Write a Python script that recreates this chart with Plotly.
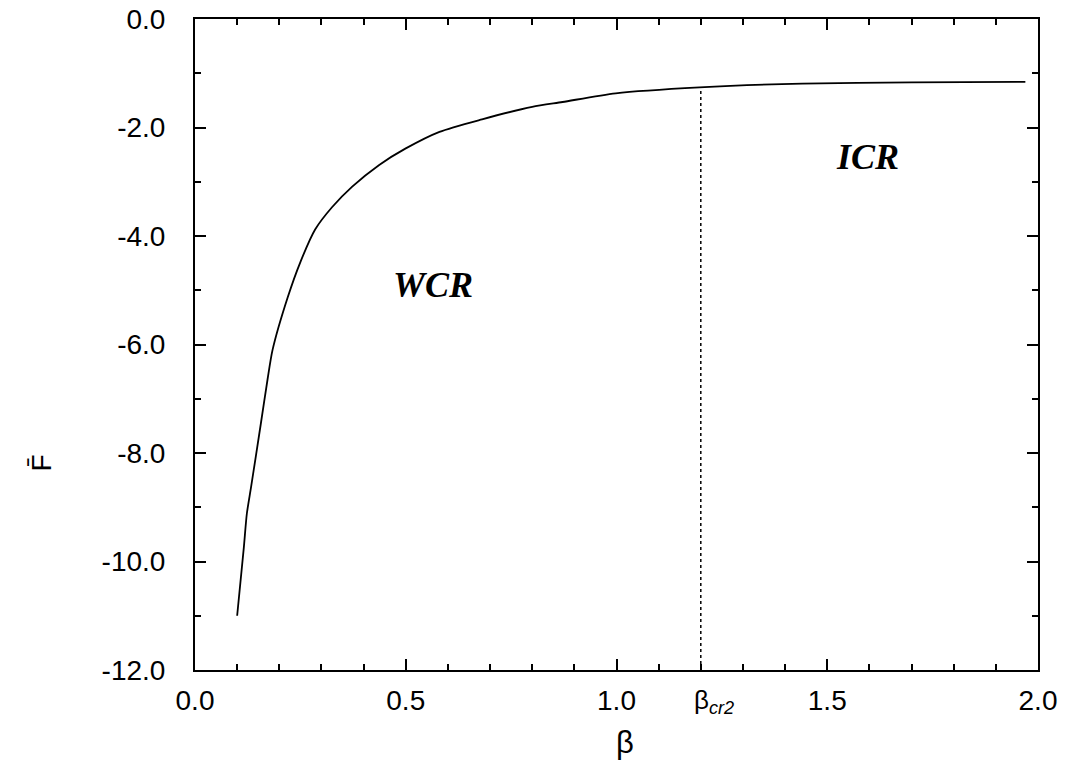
import plotly.graph_objects as go

# Data
beta = [0.100, 0.116, 0.123, 0.133, 0.156, 0.172, 0.184, 0.220, 0.250, 0.285,
        0.325, 0.373, 0.437, 0.499, 0.580, 0.681, 0.800, 0.872, 0.998, 1.197,
        1.441, 1.700, 1.970]
F_bar = [-11.00, -9.73, -9.12, -8.63, -7.47, -6.65, -6.10, -5.13, -4.48, -3.88,
         -3.47, -3.09, -2.69, -2.39, -2.08, -1.85, -1.62, -1.53, -1.37, -1.26,
         -1.19, -1.17, -1.16]
beta_cr2 = 1.2
F_at_cr2 = -1.26
crit_x = [beta_cr2, beta_cr2]
crit_y = [-12.0, F_at_cr2]

x_ticks = [0.0, 0.5, 1.0, 1.5, 2.0]
x_ticklabels = ["0.0", "0.5", "1.0", "1.5", "2.0"]
y_ticks = [0.0, -2.0, -4.0, -6.0, -8.0, -10.0, -12.0]
y_ticklabels = ["0.0", "-2.0", "-4.0", "-6.0", "-8.0", "-10.0", "-12.0"]

region_labels = ["WCR", "ICR"]
region_x = [0.565, 1.595]
region_y = [-4.9, -2.55]

fig = go.Figure()
fig.add_trace(go.Scatter(x=beta, y=F_bar, mode="lines",
                         line=dict(color="black", width=1.8, shape="spline", smoothing=0.7),
                         showlegend=False, hoverinfo="skip"))
fig.add_trace(go.Scatter(x=crit_x, y=crit_y, mode="lines",
                         line=dict(color="black", width=1.5, dash="dot"),
                         showlegend=False, hoverinfo="skip"))

for t, xx, yy in zip(region_labels, region_x, region_y):
    fig.add_annotation(x=xx, y=yy, xref="x", yref="y", text="<b><i>" + t + "</i></b>",
                       showarrow=False,
                       font=dict(family="Liberation Serif", size=36, color="black"))

# beta_cr2 label below axis
fig.add_annotation(x=1.178, y=-0.048, xref="x", yref="paper", xanchor="left",
                   yanchor="middle",
                   text="β<sub><i>cr2</i></sub>", showarrow=False,
                   font=dict(family="Liberation Sans", size=26, color="black"))
# x axis title
fig.add_annotation(x=1.02, y=-0.111, xref="x", yref="paper", yanchor="middle",
                   text="β", showarrow=False,
                   font=dict(family="Liberation Sans", size=31, color="black"))
# y axis title
fig.add_annotation(x=-0.182, y=0.318, xref="paper", yref="paper",
                   xanchor="center", yanchor="middle",
                   text="F\u0304", textangle=-90, showarrow=False,
                   font=dict(family="Liberation Sans", size=28, color="black"))

axis_common = dict(
    showline=True, linecolor="black", linewidth=2, mirror="allticks",
    ticks="inside", ticklen=11, tickwidth=2, tickcolor="black",
    showgrid=False, zeroline=False, automargin=False,
    tickfont=dict(family="Liberation Sans", size=28, color="black"),
)

fig.update_xaxes(range=[0, 2.0], tickvals=x_ticks, ticktext=x_ticklabels,
                 minor=dict(dtick=0.1, ticks="inside", ticklen=6, tickwidth=1.5,
                            tickcolor="black", showgrid=False),
                 ticklabelstandoff=4, **axis_common)
fig.update_yaxes(range=[-12, 0], tickvals=y_ticks, ticktext=y_ticklabels,
                 minor=dict(dtick=1.0, ticks="inside", ticklen=6, tickwidth=1.5,
                            tickcolor="black", showgrid=False),
                 ticklabelstandoff=22, **axis_common)

fig.update_layout(width=1090, height=763,
                  margin=dict(l=195, r=52, t=19, b=93),
                  paper_bgcolor="white", plot_bgcolor="white")

fig.write_html("out.html")
